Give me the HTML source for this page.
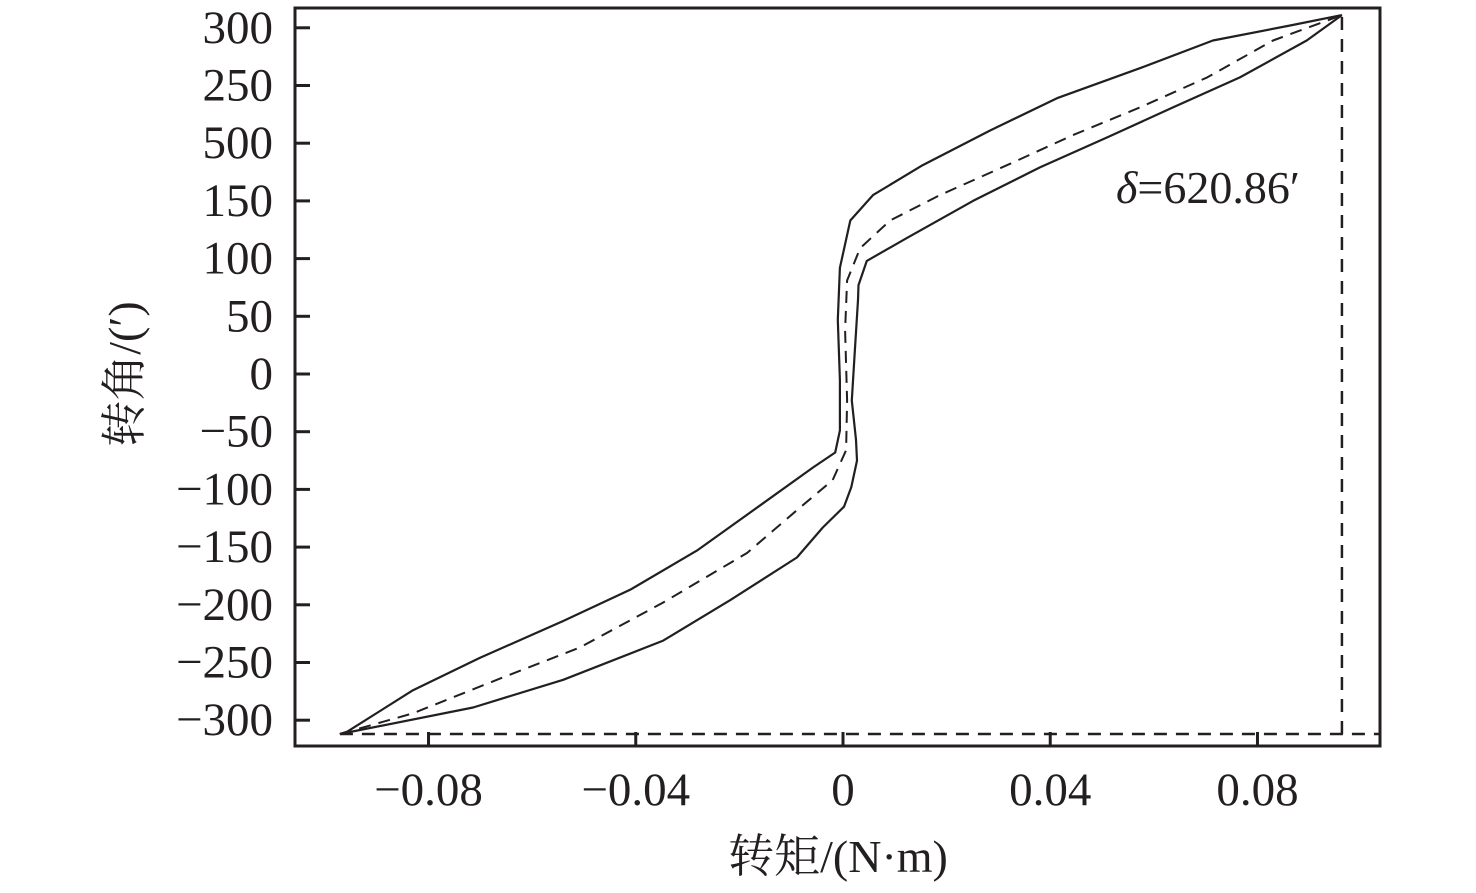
<!DOCTYPE html>
<html><head><meta charset="utf-8"><style>
body{margin:0;background:#fff;}
svg text{font-family:"Liberation Serif","Noto Serif CJK SC",serif;fill:#231f20;}
</style></head><body>
<svg width="1476" height="888" xmlns="http://www.w3.org/2000/svg">
<g id="plot"></g>
</svg>
<script>
const xTicks=[-0.08,-0.04,0,0.04,0.08];
const xTickLabels=["\u22120.08","\u22120.04","0","0.04","0.08"];
const yTicks=[300,250,200,150,100,50,0,-50,-100,-150,-200,-250,-300];
const yTickLabels=["300","250","500","150","100","50","0","\u221250","\u2212100","\u2212150","\u2212200","\u2212250","\u2212300"];
const upperX=[-0.0971,-0.0957,-0.0830,-0.0701,-0.0540,-0.0411,-0.0282,-0.0154,-0.0058,-0.0015,-0.0006,-0.0006,-0.0010,-0.0006,0.0014,0.0058,0.0154,0.0284,0.0413,0.0573,0.0714,0.0863,0.0963];
const upperY=[-312,-310,-274,-246,-214,-187,-153,-112,-81,-68,-49,-5,47,92,133,155,181,211,239,265,289,302,311];
const lowerX=[-0.0971,-0.0714,-0.0540,-0.0347,-0.0218,-0.0089,-0.0039,0.0002,0.0016,0.0027,0.0025,0.0017,0.0023,0.0029,0.0030,0.0046,0.0124,0.0251,0.0380,0.0510,0.0637,0.0766,0.0895,0.0963];
const lowerY=[-312,-289,-265,-231,-196,-159,-133,-115,-98,-75,-57,-23,21,64,77,98,118,150,179,205,231,257,289,311];
const midX=[-0.0971,-0.0830,-0.0668,-0.0508,-0.0347,-0.0185,-0.0089,-0.0020,0.0006,0.0008,0.0004,0.0008,0.0033,0.0091,0.0187,0.0317,0.0444,0.0573,0.0703,0.0830,0.0963];
const midY=[-312,-294,-265,-237,-198,-155,-118,-92,-66,-23,38,81,109,133,155,181,207,231,257,289,311];
const boxX=0.0963, boxY=-312;

const L=295,R=1380,T=8,B=746;
const sx=v=>843+v*5181;
const sy=v=>374-v*1.154;
const g=document.getElementById('plot');
const NS='http://www.w3.org/2000/svg';
function mk(tag,attrs){const e=document.createElementNS(NS,tag);for(const k in attrs)e.setAttribute(k,attrs[k]);g.appendChild(e);return e;}
function path(xs,ys){return xs.map((x,i)=>(i?'L':'M')+sx(x).toFixed(1)+','+sy(ys[i]).toFixed(1)).join(' ');}

let e=mk('path',{d:path(upperX,upperY),fill:'none',stroke:'#231f20','stroke-width':2.2,'stroke-linejoin':'round'});


e=mk('path',{d:path(lowerX,lowerY),fill:'none',stroke:'#231f20','stroke-width':2.2,'stroke-linejoin':'round'});


e=mk('path',{d:path(midX,midY),fill:'none',stroke:'#231f20','stroke-width':2,'stroke-dasharray':'12 8','stroke-linejoin':'round'});


e=mk('path',{d:`M${sx(midX[0])},${sy(boxY)} L${R},${sy(boxY)} M${sx(boxX)},${sy(boxY)} L${sx(boxX)},${sy(311)}`,fill:'none',stroke:'#231f20','stroke-width':2.5,'stroke-dasharray':'13 9'});



e=mk('rect',{x:L,y:T,width:R-L,height:B-T,fill:'none',stroke:'#231f20','stroke-width':3});



xTicks.forEach((v,i)=>{
  let t=mk('line',{x1:sx(v),x2:sx(v),y1:B,y2:B-14,stroke:'#231f20','stroke-width':3});
  
  
  let l=mk('text',{x:sx(v),y:805,'font-size':47,'text-anchor':'middle'});
  l.textContent=xTickLabels[i];
  
  
});
yTicks.forEach((v,i)=>{
  let t=mk('line',{x1:L,x2:L+15,y1:sy(v),y2:sy(v),stroke:'#231f20','stroke-width':3});
  
  
  let l=mk('text',{x:273,y:sy(v)+15,'font-size':47,'text-anchor':'end'});
  l.textContent=yTickLabels[i];
  
  
});
e=mk('text',{x:838,y:872,'font-size':46,'text-anchor':'middle'});
e.textContent='转矩/(N·m)';


e=mk('text',{x:0,y:0,'font-size':46,'text-anchor':'middle',transform:'translate(140,374) rotate(-90)'});
e.textContent='转角/(′)';


e=mk('text',{x:1116,y:203,'font-size':46});
e.innerHTML='<tspan font-style="italic">δ</tspan>=620.86′';


</script>
</body></html>
